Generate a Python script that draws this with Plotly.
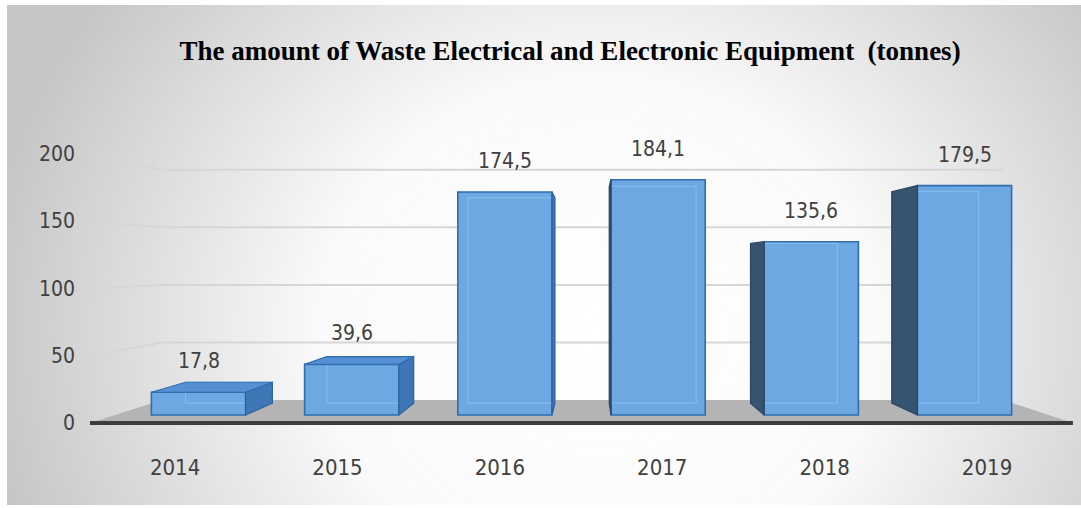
import base64
import plotly.graph_objects as go

# ---- data -------------------------------------------------------------
years = ["2014", "2015", "2016", "2017", "2018", "2019"]
amounts = [17.8, 39.6, 174.5, 184.1, 135.6, 179.5]
amount_labels = ["17,8", "39,6", "174,5", "184,1", "135,6", "179,5"]
y_ticks = [0, 50, 100, 150, 200]
chart_title = "The amount of Waste Electrical and Electronic Equipment  (tonnes)"

# ---- figure geometry --------------------------------------------------
FIG_W, FIG_H = 1081, 508
MARGIN_L, MARGIN_B = 76, 56
PLOT_W, PLOT_H = FIG_W - MARGIN_L, FIG_H - MARGIN_B

# front plane of the 3-D scene: first category centre / step and value baseline / scale (px)
CAT0_PX, CAT_STEP_PX = 198.5, 153.2
BASE_PX, VALUE_PX = 415.0, 1.278
VANISH_PX = (589.0, 264.0)

BAR_WIDTH = 0.615
BAR_DEPTH = 0.078
FLOOR_FRONT = -0.053
WALL_DEPTH = 0.099
TICK_DEPTH = -0.06
FLOOR_LEFT = (115.1 - CAT0_PX) / CAT_STEP_PX
FLOOR_RIGHT = (1048.6 - CAT0_PX) / CAT_STEP_PX

x_range = [(MARGIN_L - CAT0_PX) / CAT_STEP_PX, (FIG_W - CAT0_PX) / CAT_STEP_PX]
y_range = [(BASE_PX - PLOT_H) / VALUE_PX, BASE_PX / VALUE_PX]
vx = (VANISH_PX[0] - CAT0_PX) / CAT_STEP_PX
vy = (BASE_PX - VANISH_PX[1]) / VALUE_PX


def proj(x, v, k):
    """Move a front-plane point (x, v) back to depth k towards the vanishing point."""
    return x + (vx - x) * k, v + (vy - v) * k


def poly(points):
    xs = [p[0] for p in points] + [points[0][0]]
    ys = [p[1] for p in points] + [points[0][1]]
    return xs, ys


TEXT_FONT = "Liberation Sans Narrow, DejaVu Sans Condensed, Roboto, sans-serif"
TEXT_COLOR = "#404040"
TEXT_SIZE = 21

FRONT_COLOR = "#6EA8E2"
EDGE_COLOR = "#2F6CB0"
RIGHT_SIDE = "#3F76B6"
LEFT_SIDE = "#36536F"
TOP_COLOR = "#5490D2"
INNER_EDGE = "rgba(150,198,244,0.55)"

fig = go.Figure()

# front faces of the bars
fig.add_trace(go.Bar(
    x=list(range(len(years))), y=amounts, width=BAR_WIDTH,
    marker=dict(color=FRONT_COLOR, line=dict(color=EDGE_COLOR, width=1.6)),
    hoverinfo="skip", showlegend=False,
))

# back edges seen through the glassy front faces
for i, h in enumerate(amounts):
    xl, xr = i - BAR_WIDTH / 2, i + BAR_WIDTH / 2
    back = [proj(xl, h, BAR_DEPTH), proj(xl, 0, BAR_DEPTH),
            proj(xr, 0, BAR_DEPTH), proj(xr, h, BAR_DEPTH)]
    xs, ys = poly(back)
    fig.add_trace(go.Scatter(x=xs, y=ys, mode="lines",
                             line=dict(color=INNER_EDGE, width=1.3),
                             hoverinfo="skip", showlegend=False))

# side and top faces
for i, h in enumerate(amounts):
    xl, xr = i - BAR_WIDTH / 2, i + BAR_WIDTH / 2
    if vx > xr:
        xs_side, side_fill, side_edge = xr, RIGHT_SIDE, "#2C609F"
    elif vx < xl:
        xs_side, side_fill, side_edge = xl, LEFT_SIDE, "#2A4663"
    else:
        xs_side = None
    if xs_side is not None:
        face = [proj(xs_side, 0, 0), proj(xs_side, h, 0),
                proj(xs_side, h, BAR_DEPTH), proj(xs_side, 0, BAR_DEPTH)]
        xs, ys = poly(face)
        fig.add_trace(go.Scatter(x=xs, y=ys, mode="lines", fill="toself",
                                 fillcolor=side_fill,
                                 line=dict(color=side_edge, width=1.2),
                                 hoverinfo="skip", showlegend=False))
    if h < vy:
        top = [proj(xl, h, 0), proj(xr, h, 0),
               proj(xr, h, BAR_DEPTH), proj(xl, h, BAR_DEPTH)]
        xs, ys = poly(top)
        fig.add_trace(go.Scatter(x=xs, y=ys, mode="lines", fill="toself",
                                 fillcolor=TOP_COLOR,
                                 line=dict(color=EDGE_COLOR, width=1.2),
                                 hoverinfo="skip", showlegend=False))

# the value axis (left wall) needs a trace of its own to be drawn
fig.add_trace(go.Scatter(x=[None], y=[None], yaxis="y2", mode="markers",
                         hoverinfo="skip", showlegend=False))

# value labels above each bar
annotations = [
    dict(x=i, y=h, xref="x", yref="y", text=lab, showarrow=False,
         yshift=31, font=dict(family=TEXT_FONT, size=TEXT_SIZE, color=TEXT_COLOR))
    for i, (h, lab) in enumerate(zip(amounts, amount_labels))
]

# floor, its front edge and the wall gridlines
shapes = []
fl = [proj(FLOOR_LEFT, 0, FLOOR_FRONT), proj(FLOOR_RIGHT, 0, FLOOR_FRONT),
      proj(FLOOR_RIGHT, 0, WALL_DEPTH), proj(FLOOR_LEFT, 0, WALL_DEPTH)]
shapes.append(dict(
    type="path", xref="x", yref="y", layer="below",
    path="M " + " L ".join(f"{p[0]},{p[1]}" for p in fl) + " Z",
    fillcolor="#B4B4B4", line=dict(width=0),
))
for v in y_ticks[1:]:
    a = proj(FLOOR_LEFT, v, FLOOR_FRONT)
    b = proj(FLOOR_LEFT, v, WALL_DEPTH)
    c = proj(FLOOR_RIGHT, v, WALL_DEPTH)
    shapes.append(dict(
        type="path", xref="x", yref="y", layer="below",
        path=f"M {a[0]},{a[1]} L {b[0]},{b[1]} L {c[0]},{c[1]}",
        line=dict(color="#D6D6D6", width=2),
    ))
f0, f1 = fl[0], fl[1]
shapes.append(dict(type="line", xref="x", yref="y", layer="below",
                   x0=f0[0], y0=f0[1], x1=f1[0], y1=f1[1],
                   line=dict(color="#3C3C3C", width=4)))

# soft grey vignette behind the chart
bg_svg = f"""<svg xmlns="http://www.w3.org/2000/svg" width="{FIG_W}" height="{FIG_H}" viewBox="0 0 {FIG_W} {FIG_H}" preserveAspectRatio="none">
<defs><radialGradient id="g" gradientUnits="userSpaceOnUse" cx="600" cy="330" r="620"
 gradientTransform="translate(600,330) scale(1,0.9) translate(-600,-330)">
<stop offset="0" stop-color="#ffffff"/><stop offset="0.45" stop-color="#fafafa"/>
<stop offset="1" stop-color="#c6c6c6"/></radialGradient></defs>
<rect x="7" y="5" width="{FIG_W - 7}" height="{FIG_H - 8}" fill="url(#g)"/></svg>"""
bg_src = "data:image/svg+xml;base64," + base64.b64encode(bg_svg.encode()).decode()

# tick labels: categories sit on the floor's front edge, values on the left wall's front edge
x_tickvals = [proj(i, 0, TICK_DEPTH)[0] for i in range(len(years))]
label_range = [(r - vy * FLOOR_FRONT) / (1 - FLOOR_FRONT) for r in y_range]

fig.update_layout(
    width=FIG_W, height=FIG_H,
    margin=dict(l=MARGIN_L, r=0, t=0, b=MARGIN_B, pad=0),
    paper_bgcolor="white", plot_bgcolor="rgba(0,0,0,0)",
    showlegend=False,
    title=dict(text=f"<b>{chart_title}</b>", x=570 / FIG_W, xanchor="center",
               y=1 - 51 / FIG_H, yanchor="middle", xref="container", yref="container",
               font=dict(family="Liberation Serif, Times New Roman, serif",
                         size=27, color="#000000")),
    xaxis=dict(range=x_range, tickvals=x_tickvals, ticktext=years,
               showgrid=False, zeroline=False, showline=False, ticks="",
               tickfont=dict(family=TEXT_FONT, size=TEXT_SIZE + 1, color=TEXT_COLOR)),
    yaxis=dict(range=y_range, visible=False),
    yaxis2=dict(range=label_range, overlaying="y", side="left", anchor="x",
                tickvals=y_ticks, showgrid=False, zeroline=False, showline=False,
                ticks="", tickfont=dict(family=TEXT_FONT, size=TEXT_SIZE, color=TEXT_COLOR)),
    shapes=shapes,
    annotations=annotations,
    images=[dict(source=bg_src, xref="paper", yref="paper",
                 x=-MARGIN_L / PLOT_W, y=1, sizex=FIG_W / PLOT_W, sizey=FIG_H / PLOT_H,
                 xanchor="left", yanchor="top", sizing="stretch", layer="below")],
)

fig.write_html("out.html")
